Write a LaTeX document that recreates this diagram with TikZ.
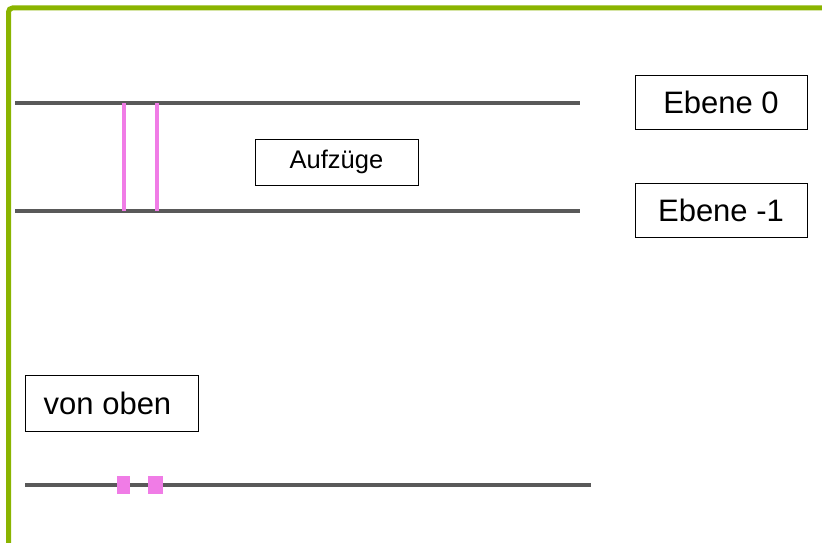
\documentclass[tikz,border=0pt]{standalone}
\usepackage{fontspec}
\setmainfont{Liberation Sans}
\usepackage{tikz}
\usetikzlibrary{calc}

\definecolor{framegreen}{HTML}{8AB400}
\definecolor{levelgray}{HTML}{595959}
\definecolor{liftpink}{HTML}{F07CE6}

\begin{document}
\begin{tikzpicture}[x=1pt,y=-1pt,
                    level line/.style={line width=4pt,draw=levelgray},
                    lift line/.style={line width=3.5pt,draw=liftpink},
                    main node/.style={draw,line width=0.9pt,inner sep=0pt,minimum width=172pt,minimum height=54pt,font=\fontsize{31}{36}\selectfont}]

    \useasboundingbox (0,0) rectangle (822,543);
    \draw[framegreen,line width=5pt,rounded corners=4pt] (8.5,543) -- (8.5,8) -- (822,8);

    % Ebenen, seitlich
    \coordinate (e0a) at (15,103);
    \coordinate (e0b) at (580,103);
    \coordinate (e1a) at (15,211);
    \coordinate (e1b) at (580,211);
    \draw[level line] (e0a) -- (e0b);
    \draw[level line] (e1a) -- (e1b);

    \draw[lift line] ($(e0a)+(109,0)$) coordinate (l1o) -- (l1o |- e1a);
    \draw[lift line] ($(e0a)+(142,0)$) coordinate (l2o) -- (l2o |- e1a);

    \node[main node] (ebene0) at (721,102) {Ebene 0};
    \node[main node] (ebene1) at (721,210) {Ebene -1};
    \node[main node,minimum width=163pt,minimum height=46pt,font=\fontsize{25.5}{30}\selectfont] (aufz) at (336.5,162) {\raisebox{-1pt}{Aufzüge}};

    % von oben
    \node[main node,minimum width=173pt,minimum height=56pt] (oben) at (111.5,403) {\hspace*{-8pt}von oben};
    \coordinate (ga) at (25,485);
    \coordinate (gb) at (591,485);
    \draw[level line] (ga) -- (gb);
    \fill[liftpink] ($(ga)+(92,-9)$) rectangle ++(13,18);
    \fill[liftpink] ($(ga)+(123,-9)$) rectangle ++(15,18);
\end{tikzpicture}
\end{document}
